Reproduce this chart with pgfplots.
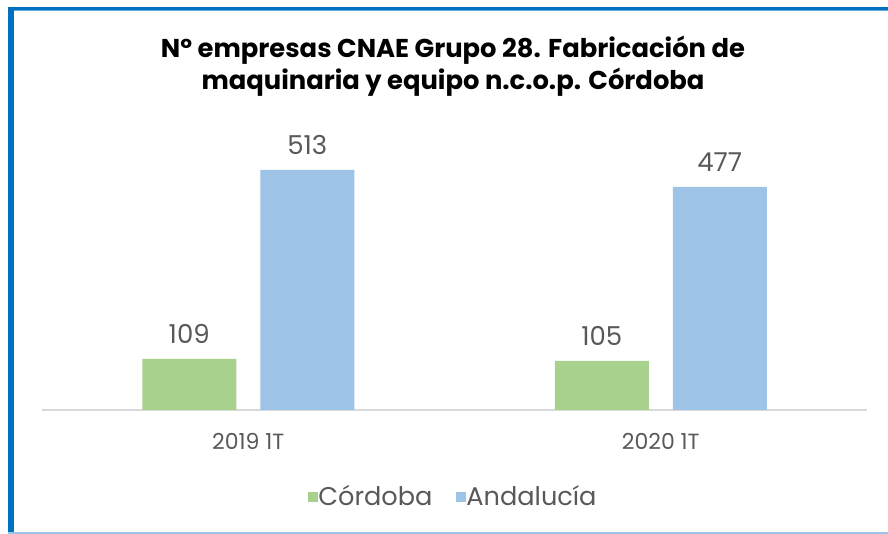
\documentclass[border=0pt]{standalone}
\usepackage{pgfplots}
\pgfplotsset{compat=1.18}
\usepackage{fontspec}
\setmainfont{Poppins}
\definecolor{cgreen}{HTML}{A9D18E}
\definecolor{cblue}{HTML}{9DC3E6}
\definecolor{frameblue}{HTML}{0070C0}
\definecolor{txtgray}{HTML}{595959}
\begin{document}
\begin{tikzpicture}
\useasboundingbox (0,0) rectangle (444pt,267pt);
% frame
\fill[white] (0,0) rectangle (444pt,267pt);
\fill[frameblue] (4pt,263.5pt) rectangle (444pt,262pt);
\fill[frameblue!60] (4pt,262pt) rectangle (444pt,261.5pt);
\fill[frameblue] (4pt,0pt) rectangle (7pt,263.5pt);
\fill[cblue] (4pt,0pt) rectangle (444pt,1pt);
% title
\node[font=\bfseries\fontsize{12.9}{16}\selectfont, align=center, text=black] at (226.5pt,234pt)
  {Nº empresas CNAE Grupo 28. Fabricación de\\maquinaria y equipo n.c.o.p. Córdoba};
\begin{axis}[
  at={(21pt,62pt)}, anchor=south west,
  scale only axis, width=412.5pt, height=140.4pt,
  xmin=-0.5, xmax=1.5, ymin=0, ymax=600,
  axis y line=none, axis x line*=bottom,
  x axis line style={draw=black!15, line width=1.2pt, -},
  xtick={0,1}, xticklabels={2019 1T,2020 1T},
  major tick length=0pt,
  xticklabel style={text=txtgray, font=\fontsize{11}{13}\selectfont, yshift=-8pt},
  ybar, bar width=47pt,
  nodes near coords,
  /pgf/number format/assume math mode=true,
  every node near coord/.append style={text=txtgray, font=\fontsize{13}{15}\selectfont, yshift=4pt},
  legend style={at={(0.5,-0.31)}, anchor=center, draw=none, fill=none,
    font=\fontsize{12.8}{15}\selectfont, text=txtgray, legend columns=2,
    /tikz/every even column/.append style={column sep=10pt},
    /tikz/every odd column/.append style={column sep=-2pt}},
  legend image code/.code={\fill[#1] (1pt,-2.5pt) rectangle (6pt,2.5pt);},
  clip=false,
]
\addplot[fill=cgreen, draw=none, bar shift=-29.5pt] coordinates {(0,109) (1,105)};
\addplot[fill=cblue, draw=none, bar shift=29.5pt] coordinates {(0,513) (1,477)};
\legend{Córdoba,Andalucía}
\end{axis}
\end{tikzpicture}
\end{document}
